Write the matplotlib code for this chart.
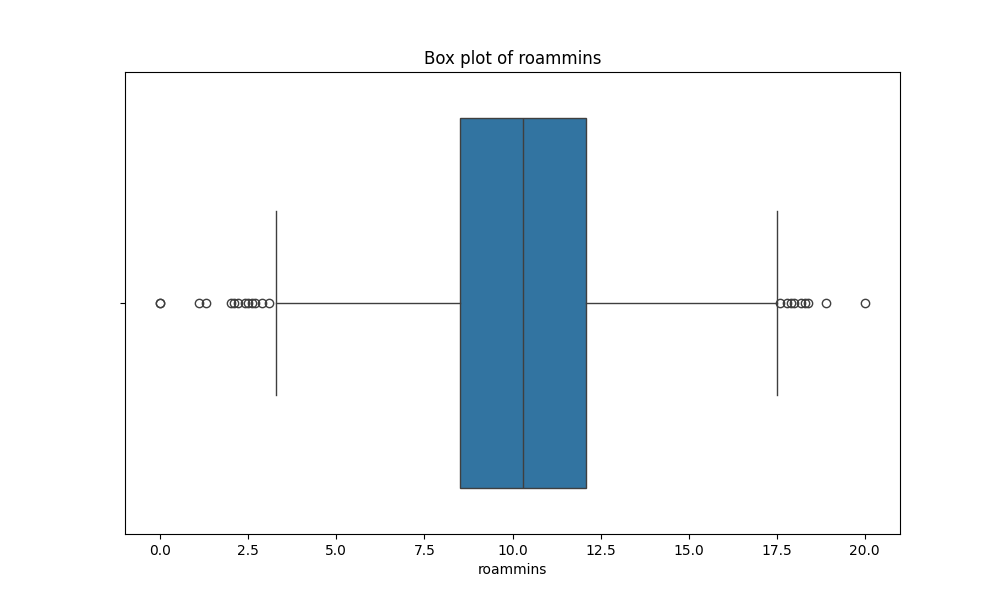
import matplotlib
matplotlib.use("Agg")
import matplotlib.pyplot as plt

# summary stats
q1, med, q3 = 8.5, 10.3, 12.1
whislo, whishi = 3.3, 17.5
fliers = [0.0, 0.0, 1.1, 1.3, 2.0, 2.1, 2.2, 2.4, 2.5, 2.6, 2.7, 2.9, 3.1,
          17.6, 17.8, 17.9, 18.0, 18.2, 18.3, 18.4, 18.9, 20.0]

stats = [dict(q1=q1, med=med, q3=q3, whislo=whislo, whishi=whishi, fliers=fliers)]

fig, ax = plt.subplots(figsize=(10, 6), dpi=100)
line = dict(color="#3f3f3f", linewidth=1.0)
ax.bxp(stats, positions=[0], vert=False, widths=0.8, patch_artist=True,
       boxprops=dict(facecolor="#3274a1", edgecolor="#3f3f3f", linewidth=1.0),
       medianprops=line, whiskerprops=line, capprops=line, capwidths=0.4,
       flierprops=dict(marker="o", markerfacecolor="none", markeredgecolor="#3f3f3f",
                       markersize=6, linewidth=0))
ax.set_ylim(0.5, -0.5)
ax.set_yticks([0])
ax.set_yticklabels([""])
ax.set_xlim(-1.0, 21.0)
ax.set_xticks([0, 2.5, 5, 7.5, 10, 12.5, 15, 17.5, 20])
ax.set_xlabel("roammins")
ax.set_title("Box plot of roammins")
fig.savefig("out.png", dpi=100)
